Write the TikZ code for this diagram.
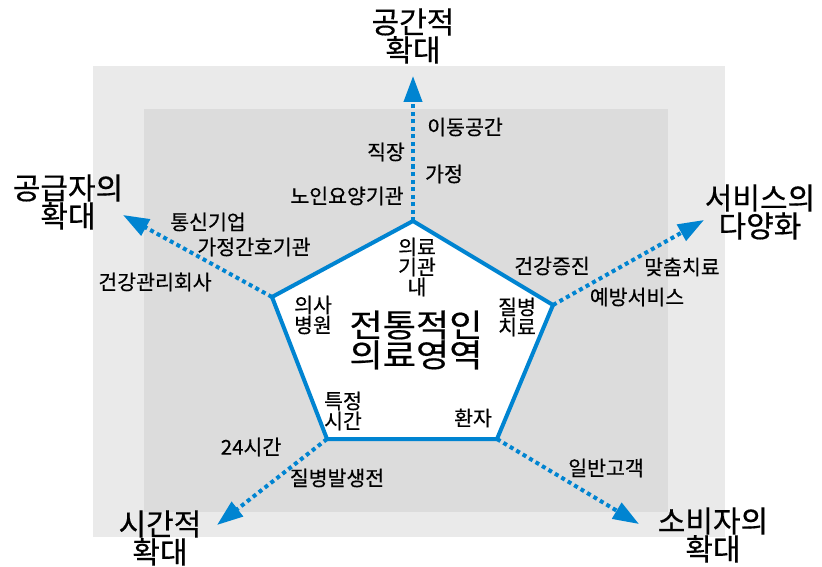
\documentclass[tikz,border=0pt]{standalone}
\usepackage{fontspec}
\newfontfamily\kr[FakeBold=0.4]{Noto Sans CJK KR}
\newfontfamily\krwide[FakeBold=0.5,FakeStretch=1.13]{Noto Sans CJK KR}
\usetikzlibrary{arrows.meta}
\definecolor{bl}{RGB}{0,132,209}
\definecolor{outerg}{RGB}{234,234,234}
\definecolor{innerg}{RGB}{220,220,220}
\begin{document}
\begin{tikzpicture}[x=1pt,y=-1pt,
  title/.style={font=\kr\fontsize{30}{28}\selectfont, align=center, inner sep=0pt},
  lab/.style={font=\kr\fontsize{20.5}{20}\selectfont, align=center, inner sep=0pt},
  big/.style={font=\krwide\fontsize{32}{28}\selectfont, align=center, inner sep=0pt},
  ext/.style={bl, line width=4pt, dash pattern=on 4pt off 3.5pt, -{Triangle[length=26pt,width=18pt]}},
  pent/.style={bl, line width=4pt, fill=white, line join=miter}
]
\useasboundingbox (0,0) rectangle (822,567);
\fill[outerg] (93,66) rectangle (725,537);
\fill[innerg] (144,109) rectangle (668,512);

% pentagon vertices
\coordinate (vT) at (413,221);
\coordinate (vL) at (272,297);
\coordinate (vR) at (553,305);
\coordinate (vBL) at (327,439);
\coordinate (vBR) at (497,439);
% arrow tips
\coordinate (tT) at (413,76);
\coordinate (tL) at (123,215);
\coordinate (tR) at (704,220);
\coordinate (tBL) at (217,525);
\coordinate (tBR) at (639,524);

\draw[ext] (vT) -- (tT);
\draw[ext] (vL) -- (tL);
\draw[ext] (vR) -- (tR);
\draw[ext] (vBL) -- (tBL);
\draw[ext] (vBR) -- (tBR);

\draw[pent] (vT) -- (vR) -- (vBR) -- (vBL) -- (vL) -- cycle;

% titles
\node[title] (n1) at (413,36) {공간적\\확대};
\node[title] (n2) at (68,202) {공급자의\\확대};
\node[title] (n3) at (760,212) {서비스의\\다양화};
\node[title] (n4) at (160,538) {시간적\\확대};
\node[title] (n5) at (713,535) {소비자의\\확대};

% labels outside
\node[lab] (a1) at (465,127) {이동공간};
\node[lab] (a2) at (386,152) {직장};
\node[lab] (a3) at (444,174) {가정};
\node[lab] (a4) at (347,196) {노인요양기관};
\node[lab] (b1) at (208,222) {통신기업};
\node[lab] (b2) at (254,247) {가정간호기관};
\node[lab] (b3) at (155,282) {건강관리회사};
\node[lab] (c1) at (552,266) {건강증진};
\node[lab] (c2) at (682,267) {맞춤치료};
\node[lab] (c3) at (637,297) {예방서비스};
\node[lab] (d1) at (251,447) {24시간};
\node[lab] (d2) at (337,478) {질병발생전};
\node[lab] (e1) at (606,468) {일반고객};

% labels inside
\node[lab] (p1) at (417,267) {의료\\기관\\내};
\node[lab] (p2) at (313,315) {의사\\병원};
\node[lab] (p3) at (517,317) {질병\\치료};
\node[big] (p0) at (416,340) {전통적인\\의료영역};
\node[lab] (p4) at (343,411) {특정\\시간};
\node[lab] (p5) at (473,418) {환자};
\end{tikzpicture}
\end{document}
